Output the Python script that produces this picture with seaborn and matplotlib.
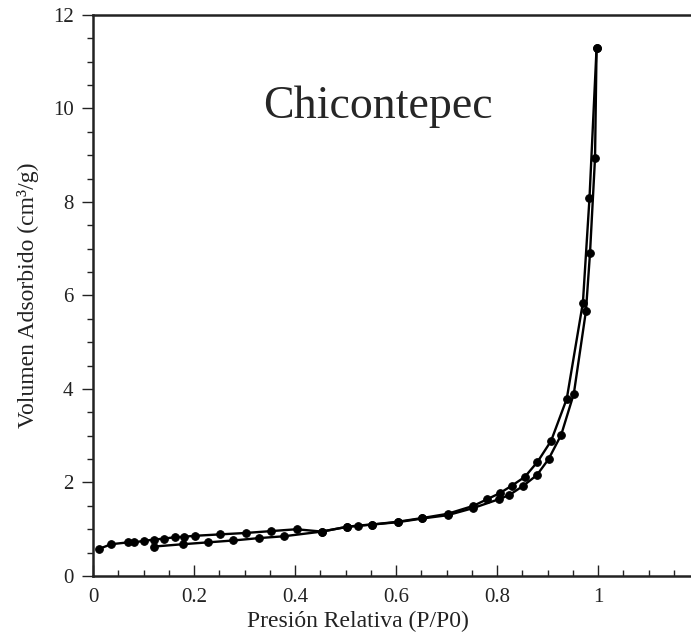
import numpy as np
import pandas as pd
import seaborn as sns
import matplotlib.pyplot as plt
from matplotlib.ticker import MultipleLocator, FuncFormatter

# adsorption branch
ads_p = [0.012, 0.036, 0.070, 0.081, 0.100, 0.121, 0.141, 0.162, 0.180, 0.202,
         0.251, 0.302, 0.352, 0.403, 0.453, 0.502, 0.552, 0.603, 0.652, 0.702,
         0.752, 0.803, 0.824, 0.852, 0.879, 0.902, 0.927, 0.952, 0.976, 0.984,
         0.994, 0.997]
ads_v = [0.58, 0.68, 0.72, 0.72, 0.75, 0.78, 0.80, 0.83, 0.84, 0.86,
         0.89, 0.92, 0.96, 1.00, 0.95, 1.05, 1.10, 1.15, 1.23, 1.30,
         1.45, 1.64, 1.73, 1.93, 2.16, 2.50, 3.02, 3.90, 5.67, 6.90,
         8.95, 11.29]

# desorption branch
des_p = [0.997, 0.983, 0.970, 0.938, 0.907, 0.880, 0.855, 0.829, 0.805, 0.780,
         0.753, 0.702, 0.652, 0.603, 0.552, 0.525, 0.502, 0.453, 0.378, 0.328,
         0.278, 0.228, 0.178, 0.121]
des_v = [11.29, 8.08, 5.85, 3.79, 2.89, 2.44, 2.12, 1.93, 1.77, 1.64,
         1.50, 1.33, 1.24, 1.16, 1.10, 1.08, 1.05, 0.95, 0.85, 0.81,
         0.76, 0.72, 0.68, 0.63]

df = pd.concat([
    pd.DataFrame({'p': ads_p, 'v': ads_v, 'rama': 'Adsorcion'}),
    pd.DataFrame({'p': des_p, 'v': des_v, 'rama': 'Desorcion'}),
], ignore_index=True)

sns.set_style('white')
plt.rcParams['font.family'] = ['Liberation Serif', 'DejaVu Serif']

fig = plt.figure(figsize=(6.91, 6.43), dpi=100)
ax = fig.add_axes([0.1346, 0.1042, 0.8654, 0.8725])

for rama in ['Adsorcion', 'Desorcion']:
    sns.lineplot(data=df[df['rama'] == rama], x='p', y='v', ax=ax, sort=False,
                 estimator=None, color='black', lw=1.7, marker='o', ms=5.5,
                 mec='black', mfc='black')

ax.set_xlim(0, 1.184)
ax.set_ylim(0, 12)

ax.xaxis.set_major_locator(MultipleLocator(0.2))
ax.xaxis.set_minor_locator(MultipleLocator(0.05))
ax.yaxis.set_major_locator(MultipleLocator(2))
ax.yaxis.set_minor_locator(MultipleLocator(0.5))
ax.xaxis.set_major_formatter(FuncFormatter(lambda v, p: '%g' % round(v, 2)))

ax.tick_params(axis='x', which='major', direction='in', length=8, width=1, pad=9,
               labelsize=15, colors='#222222', labelcolor='#222222')
ax.tick_params(axis='x', which='minor', direction='in', length=4, width=1, colors='#222222')
ax.tick_params(axis='y', which='major', direction='out', length=8, width=1, pad=6,
               labelsize=15, colors='#222222', labelcolor='#222222')
ax.tick_params(axis='y', which='minor', direction='out', length=4, width=1, colors='#222222')
ax.xaxis.set_ticks_position('bottom')
ax.yaxis.set_ticks_position('left')

for s in ['left', 'bottom', 'top']:
    ax.spines[s].set_linewidth(1.8)
    ax.spines[s].set_color('#222222')
ax.spines['right'].set_visible(False)

ax.set_xlabel('Presión Relativa (P/P0)', fontsize=17, color='#222222')
ax.xaxis.set_label_coords(0.443, -0.062)
ax.set_ylabel('Volumen Adsorbido (cm³/g)', fontsize=17, color='#222222')
ax.yaxis.set_label_coords(-0.09, 0.5)
ax.text(0.565, 10.03, 'Chicontepec', fontsize=33, ha='center', va='center')

if ax.get_legend() is not None:
    ax.get_legend().remove()

fig.savefig('out.png', dpi=100)
